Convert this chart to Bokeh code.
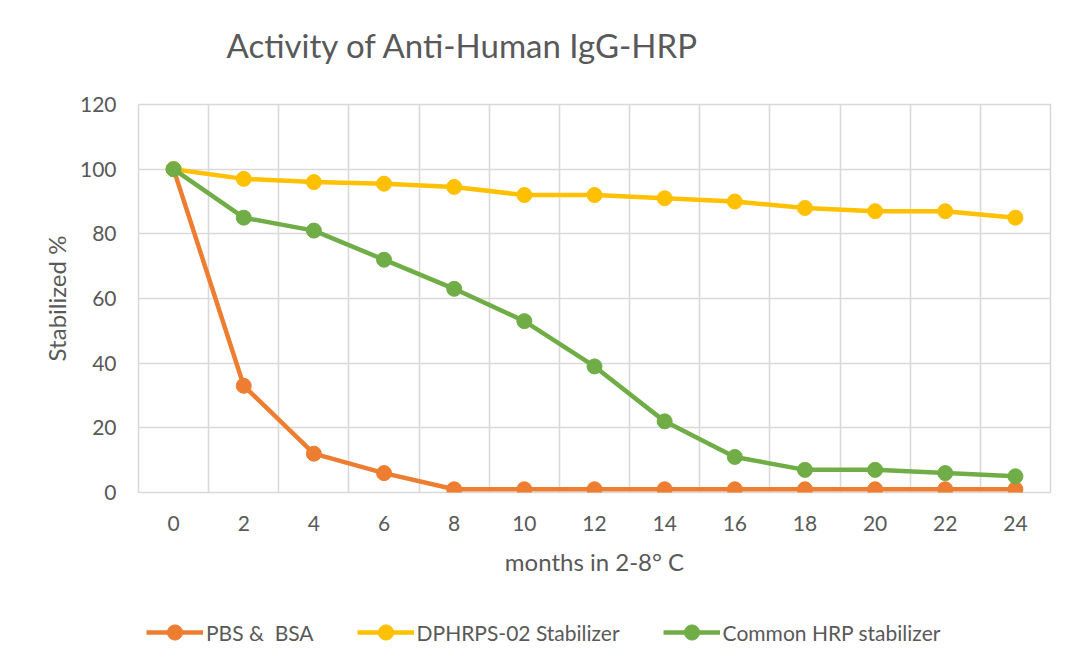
from bokeh.plotting import figure
from bokeh.layouts import column
from bokeh.models import Range1d, FixedTicker, Legend, LegendItem, Title
from bokeh.embed import file_html
from bokeh.resources import INLINE

# ---- data ----
months = [0, 2, 4, 6, 8, 10, 12, 14, 16, 18, 20, 22, 24]
pbs_bsa = [100, 33, 12, 6, 1, 1, 1, 1, 1, 1, 1, 1, 1]
dphrps_02 = [100, 97, 96, 95.5, 94.5, 92, 92, 91, 90, 88, 87, 87, 85]
common_hrp = [100, 85, 81, 72, 63, 53, 39, 22, 11, 7, 7, 6, 5]
series_names = ["PBS &  BSA", "DPHRPS-02 Stabilizer", "Common HRP stabilizer"]
series_colors = ["#ED7D31", "#FFC000", "#70AD47"]
y_ticks = [0, 20, 40, 60, 80, 100, 120]
title_text = "Activity of Anti-Human IgG-HRP"
x_title = "months in 2-8° C"
y_title = "Stabilized %"

FONT = "Lato"
TXT = "#595959"
GRID = "#d9d9d9"
W = 1065

step = months[1] - months[0]
boundaries = [m - step / 2 for m in months] + [months[-1] + step / 2]

p = figure(width=W, height=592, output_backend="svg", toolbar_location=None,
           title=None,
           x_range=Range1d(boundaries[0], boundaries[-1]),
           y_range=Range1d(y_ticks[0], y_ticks[-1]),
           min_border_left=138, min_border_right=15,
           min_border_top=104, min_border_bottom=100)
p.outline_line_color = GRID
p.outline_line_width = 1.6
p.background_fill_color = "white"
p.border_fill_color = "white"

# title: blank spacer next to the frame, then the real title above it
p.add_layout(Title(text=" ", text_font_size="1px", standoff=37), "above")
p.add_layout(Title(text=title_text, text_font=FONT, text_font_size="33px",
                   text_font_style="normal", text_color=TXT,
                   align="left", offset=88, standoff=0), "above")

# axes
p.xaxis.ticker = FixedTicker(ticks=months)
p.yaxis.ticker = FixedTicker(ticks=y_ticks)
for ax in (p.xaxis[0], p.yaxis[0]):
    ax.axis_line_color = None
    ax.major_tick_line_color = None
    ax.minor_tick_line_color = None
    ax.major_tick_out = 0
    ax.major_tick_in = 0
    ax.minor_tick_out = 0
    ax.minor_tick_in = 0
    ax.major_label_text_font = FONT
    ax.major_label_text_font_size = "21px"
    ax.major_label_text_color = TXT
    ax.axis_label_text_font = FONT
    ax.axis_label_text_font_size = "24px"
    ax.axis_label_text_font_style = "normal"
    ax.axis_label_text_color = TXT
p.xaxis.axis_label = x_title
p.yaxis.axis_label = y_title
p.xaxis.major_label_standoff = 23
p.xaxis.axis_label_standoff = 13
p.yaxis.major_label_standoff = 22
p.yaxis.axis_label_standoff = 6

# grids
p.xgrid.ticker = FixedTicker(ticks=boundaries)
for g in (p.xgrid[0], p.ygrid[0]):
    g.grid_line_color = GRID
    g.grid_line_width = 1.6

all_series = [pbs_bsa, dphrps_02, common_hrp]
for vals, col in zip(all_series, series_colors):
    p.line(months, vals, line_color=col, line_width=4.5)
    p.scatter(months, vals, marker="circle", size=15, fill_color=col, line_color=col)

# ---- legend strip (separate canvas below the chart) ----
q = figure(width=W, height=70, output_backend="svg", toolbar_location=None,
           x_axis_type=None, y_axis_type=None,
           x_range=Range1d(-200, -199), y_range=Range1d(0, 1),
           min_border=0)
q.outline_line_color = None
q.xgrid.visible = False
q.ygrid.visible = False
q.background_fill_color = "white"
q.border_fill_color = "white"

items = []
for name, vals, col in zip(series_names, all_series, series_colors):
    l = q.line(months, vals, line_color=col, line_width=4.5)
    s = q.scatter(months, vals, marker="circle", size=15, fill_color=col, line_color=col)
    items.append(LegendItem(label=name, renderers=[l, s]))

legend = Legend(items=items, location=(8, 11), orientation="horizontal",
                glyph_width=57, glyph_height=38, label_standoff=3,
                padding=0, margin=0, spacing=43,
                border_line_color=None, background_fill_alpha=0,
                label_text_font=FONT, label_text_font_size="21px",
                label_text_color=TXT)
q.add_layout(legend)

open("out.html", "w").write(file_html(column(p, q, spacing=0), INLINE))
